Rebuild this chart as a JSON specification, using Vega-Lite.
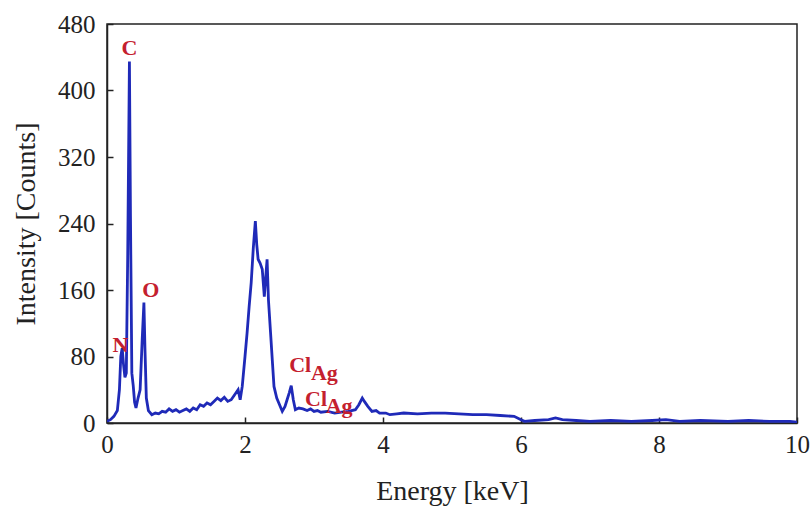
{
  "$schema": "https://vega.github.io/schema/vega-lite/v6.json",
  "width": 690,
  "height": 399,
  "autosize": "none",
  "padding": {"left": 107, "top": 24, "right": 15, "bottom": 90},
  "background": "white",
  "config": {
    "view": {"stroke": "#222", "strokeWidth": 1.5},
    "font": "Liberation Serif",
    "axis": {
      "grid": false,
      "domainColor": "#222",
      "domainWidth": 1.5,
      "tickColor": "#222",
      "tickWidth": 1.5,
      "tickSize": -6,
      "labelFlush": false,
      "labelFont": "Liberation Serif",
      "labelFontSize": 25,
      "labelColor": "#222",
      "titleFont": "Liberation Serif",
      "titleFontSize": 28,
      "titleFontWeight": "normal",
      "titleColor": "#222"
    }
  },
  "layer": [
    {
      "data": {
        "values": [
          {"energy": 0.0, "counts": 2},
          {"energy": 0.05, "counts": 4},
          {"energy": 0.1, "counts": 8},
          {"energy": 0.15, "counts": 15},
          {"energy": 0.18, "counts": 40},
          {"energy": 0.2, "counts": 80},
          {"energy": 0.22, "counts": 90},
          {"energy": 0.24, "counts": 70},
          {"energy": 0.26, "counts": 55},
          {"energy": 0.28, "counts": 60},
          {"energy": 0.3, "counts": 200},
          {"energy": 0.325, "counts": 435},
          {"energy": 0.34, "counts": 250},
          {"energy": 0.36, "counts": 60},
          {"energy": 0.38, "counts": 45},
          {"energy": 0.4, "counts": 25},
          {"energy": 0.42, "counts": 18},
          {"energy": 0.45, "counts": 30},
          {"energy": 0.48, "counts": 40},
          {"energy": 0.51, "counts": 100},
          {"energy": 0.535, "counts": 145},
          {"energy": 0.55, "counts": 90},
          {"energy": 0.57, "counts": 30},
          {"energy": 0.6, "counts": 15},
          {"energy": 0.65, "counts": 10},
          {"energy": 0.7, "counts": 12},
          {"energy": 0.75, "counts": 11},
          {"energy": 0.8, "counts": 14},
          {"energy": 0.85, "counts": 13},
          {"energy": 0.9, "counts": 17},
          {"energy": 0.95, "counts": 14},
          {"energy": 1.0, "counts": 16},
          {"energy": 1.05, "counts": 13},
          {"energy": 1.1, "counts": 15},
          {"energy": 1.15, "counts": 17},
          {"energy": 1.2, "counts": 14},
          {"energy": 1.25, "counts": 18},
          {"energy": 1.3, "counts": 16},
          {"energy": 1.35, "counts": 22},
          {"energy": 1.4, "counts": 20},
          {"energy": 1.45, "counts": 24},
          {"energy": 1.5, "counts": 22},
          {"energy": 1.55, "counts": 26},
          {"energy": 1.6, "counts": 30},
          {"energy": 1.65, "counts": 27},
          {"energy": 1.7, "counts": 31},
          {"energy": 1.75, "counts": 26},
          {"energy": 1.8, "counts": 28},
          {"energy": 1.85, "counts": 34},
          {"energy": 1.9, "counts": 40},
          {"energy": 1.93, "counts": 28},
          {"energy": 1.96, "counts": 44},
          {"energy": 2.0, "counts": 80},
          {"energy": 2.03, "counts": 108},
          {"energy": 2.06, "counts": 140},
          {"energy": 2.09, "counts": 169},
          {"energy": 2.12, "counts": 210},
          {"energy": 2.15, "counts": 243},
          {"energy": 2.17, "counts": 215},
          {"energy": 2.19, "counts": 197},
          {"energy": 2.22, "counts": 192},
          {"energy": 2.25, "counts": 185},
          {"energy": 2.28, "counts": 152},
          {"energy": 2.3, "counts": 175},
          {"energy": 2.32, "counts": 197},
          {"energy": 2.34, "counts": 148},
          {"energy": 2.37, "counts": 109},
          {"energy": 2.4, "counts": 70},
          {"energy": 2.42, "counts": 44},
          {"energy": 2.46, "counts": 30},
          {"energy": 2.49, "counts": 24},
          {"energy": 2.54, "counts": 14},
          {"energy": 2.58, "counts": 20},
          {"energy": 2.61, "counts": 28},
          {"energy": 2.64, "counts": 36},
          {"energy": 2.67, "counts": 45},
          {"energy": 2.7, "counts": 28},
          {"energy": 2.73, "counts": 16},
          {"energy": 2.78, "counts": 18},
          {"energy": 2.84, "counts": 17},
          {"energy": 2.9, "counts": 15},
          {"energy": 2.95, "counts": 17},
          {"energy": 3.0, "counts": 14},
          {"energy": 3.05, "counts": 15},
          {"energy": 3.1, "counts": 13},
          {"energy": 3.2, "counts": 14},
          {"energy": 3.3, "counts": 12},
          {"energy": 3.4, "counts": 13},
          {"energy": 3.5, "counts": 14},
          {"energy": 3.6, "counts": 16},
          {"energy": 3.65, "counts": 22},
          {"energy": 3.7, "counts": 30},
          {"energy": 3.73, "counts": 26},
          {"energy": 3.78, "counts": 20},
          {"energy": 3.84, "counts": 14},
          {"energy": 3.9, "counts": 15},
          {"energy": 3.95, "counts": 12},
          {"energy": 4.04, "counts": 12},
          {"energy": 4.1, "counts": 10},
          {"energy": 4.2, "counts": 11},
          {"energy": 4.3, "counts": 12},
          {"energy": 4.5, "counts": 11},
          {"energy": 4.7, "counts": 12},
          {"energy": 4.9, "counts": 12},
          {"energy": 5.1, "counts": 11},
          {"energy": 5.3, "counts": 10},
          {"energy": 5.5, "counts": 10},
          {"energy": 5.7, "counts": 9},
          {"energy": 5.9, "counts": 8},
          {"energy": 6.0, "counts": 4},
          {"energy": 6.05, "counts": 2},
          {"energy": 6.2, "counts": 3},
          {"energy": 6.4, "counts": 4},
          {"energy": 6.5, "counts": 6},
          {"energy": 6.6, "counts": 4},
          {"energy": 6.8, "counts": 3},
          {"energy": 7.0, "counts": 2},
          {"energy": 7.3, "counts": 3},
          {"energy": 7.6, "counts": 2},
          {"energy": 7.9, "counts": 3},
          {"energy": 8.1, "counts": 4},
          {"energy": 8.3, "counts": 2},
          {"energy": 8.6, "counts": 3},
          {"energy": 9.0, "counts": 2},
          {"energy": 9.3, "counts": 3},
          {"energy": 9.6, "counts": 2},
          {"energy": 9.9, "counts": 2},
          {"energy": 10.0, "counts": 1}
        ]
      },
      "mark": {"type": "line", "color": "#1f2ab8", "strokeWidth": 2.8, "clip": true},
      "encoding": {
        "x": {
          "field": "energy",
          "type": "quantitative",
          "scale": {"domain": [0, 10], "nice": false},
          "axis": {"values": [0, 2, 4, 6, 8, 10], "format": "d", "title": "Energy [keV]", "labelPadding": 15, "titlePadding": 20}
        },
        "y": {
          "field": "counts",
          "type": "quantitative",
          "scale": {"domain": [0, 480], "nice": false},
          "axis": {"values": [0, 80, 160, 240, 320, 400, 480], "format": "d", "title": "Intensity [Counts]", "labelPadding": 18, "titlePadding": 17}
        }
      }
    },
    {
      "data": {
        "values": [
          {"energy": 0.21, "counts": 443, "element": "C"},
          {"energy": 0.51, "counts": 152, "element": "O"},
          {"energy": 0.08, "counts": 86, "element": "N"},
          {"energy": 2.64, "counts": 61, "element": "Cl"},
          {"energy": 2.955, "counts": 52, "element": "Ag"},
          {"energy": 2.87, "counts": 20, "element": "Cl"},
          {"energy": 3.17, "counts": 12.6, "element": "Ag"}
        ]
      },
      "mark": {"type": "text", "align": "left", "baseline": "alphabetic", "font": "Liberation Serif", "fontSize": 22, "fontWeight": "bold", "color": "#c4202e"},
      "encoding": {
        "x": {"field": "energy", "type": "quantitative"},
        "y": {"field": "counts", "type": "quantitative"},
        "text": {"field": "element", "type": "nominal"}
      }
    }
  ]
}
